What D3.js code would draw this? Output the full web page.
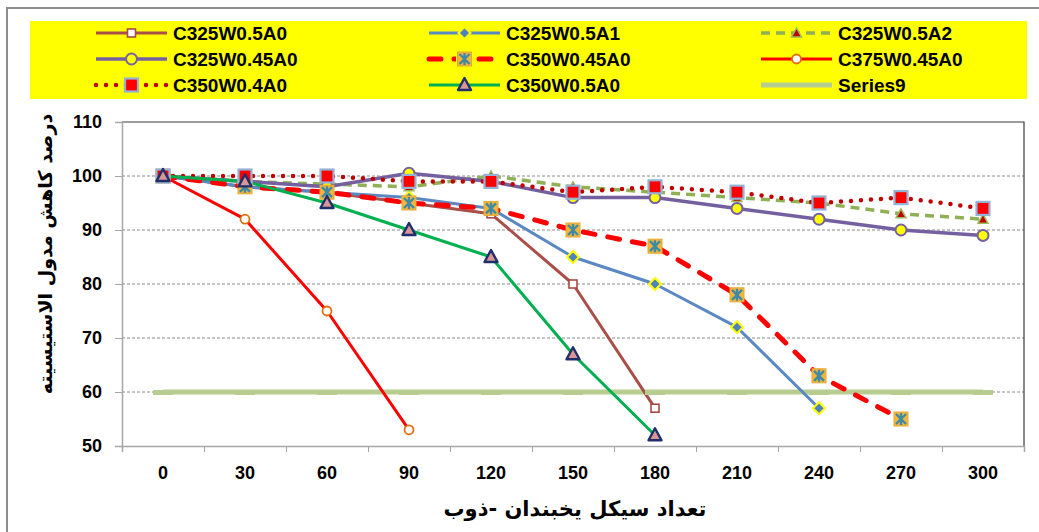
<!DOCTYPE html>
<html><head><meta charset="utf-8">
<script src="https://cdn.jsdelivr.net/npm/d3@7"></script>
<style>
html,body{margin:0;padding:0;background:#fff;}
svg{display:block;}
</style></head>
<body>
<svg id="chart" width="1039" height="532"></svg>
<script>
// ---------- DATA ----------
const categories = [0, 30, 60, 90, 120, 150, 180, 210, 240, 270, 300];
const yTicks = [50, 60, 70, 80, 90, 100, 110];
const seriesNames = ["C325W0.5A0","C325W0.5A1","C325W0.5A2","C325W0.45A0","C350W0.45A0","C375W0.45A0","C350W0.4A0","C350W0.5A0","Series9"];
const C325W05A0  = [100, 98, 97, 95, 93, 80, 57];
const C325W05A1  = [100, 98, 97, 96, 94, 85, 80, 72, 57];
const C325W05A2  = [100, 99, 98.5, 98, 100, 98, 97, 96, 95, 93, 92];
const C325W045A0 = [100, 99, 98, 100.5, 99, 96, 96, 94, 92, 90, 89];
const C350W045A0 = [100, 98, 97, 95, 94, 90, 87, 78, 63, 55];
const C375W045A0 = [100, 92, 75, 53];
const C350W04A0  = [100, 100, 100, 99, 99, 97, 98, 97, 95, 96, 94];
const C350W05A0  = [100, 99, 95, 90, 85, 67, 52];
const Series9    = [60, 60, 60, 60, 60, 60, 60, 60, 60, 60, 60];
const xTitle = "تعداد سیکل یخبندان -ذوب";
const yTitle = "درصد کاهش مدول الاستیسیته";

// ---------- LAYOUT ----------
const svg = d3.select("#chart");
const L = 122, R = 1024, T = 122, B = 446;
const x = d3.scaleBand().domain(categories).range([L, R]);
const xc = c => x(c) + x.bandwidth() / 2;
const xb = d3.scaleLinear().domain([0, categories.length]).range([L, R]);
const y = d3.scaleLinear().domain([50, 110]).range([B, T]);

// outer chart border
svg.append("rect").attr("x", 7).attr("y", 8).attr("width", 1100).attr("height", 600)
  .attr("fill", "#fff").attr("stroke", "#8e8e8e").attr("stroke-width", 2);

// legend background
svg.append("rect").attr("x", 30).attr("y", 21).attr("width", 997).attr("height", 78).attr("fill", "#ffff00");

// gridlines
svg.append("g").selectAll("line").data(yTicks.filter(v => v > 50 && v < 110)).join("line")
  .attr("x1", L).attr("x2", R).attr("y1", d => y(d)).attr("y2", d => y(d))
  .attr("stroke", "#8a8a8a").attr("stroke-width", 1).attr("stroke-dasharray", "3,2");

// plot frame top/right
svg.append("path").attr("d", `M${L},${T}H${R}V${B}`).attr("fill", "none").attr("stroke", "#3a3a3a").attr("stroke-width", 1.2);

// y axis
const yAxis = svg.append("g").attr("transform", `translate(${L},0)`)
  .call(d3.axisLeft(y).tickValues(yTicks).tickSize(7).tickPadding(13));
yAxis.select(".domain").attr("stroke", "#a6a6a6").attr("stroke-width", 1.5);
yAxis.selectAll(".tick line").attr("stroke", "#a6a6a6");
yAxis.selectAll("text").attr("font-family", "Liberation Sans, Arial, sans-serif")
  .attr("font-weight", "bold").attr("font-size", 18).attr("fill", "#000");

// x axis ticks at boundaries
const xTickAxis = svg.append("g").attr("transform", `translate(0,${B})`)
  .call(d3.axisBottom(xb).tickValues(d3.range(0, categories.length + 1)).tickSize(6).tickFormat(""));
xTickAxis.select(".domain").attr("stroke", "#a6a6a6").attr("stroke-width", 1.5);
xTickAxis.selectAll(".tick line").attr("stroke", "#a6a6a6");
const xAxis = svg.append("g").attr("transform", `translate(0,${B})`)
  .call(d3.axisBottom(x).tickSize(0).tickPadding(20));
xAxis.select(".domain").remove();
xAxis.selectAll("text").attr("font-family", "Liberation Sans, Arial, sans-serif")
  .attr("font-weight", "bold").attr("font-size", 18).attr("fill", "#000");

// axis titles
svg.append("text").attr("x", 575).attr("y", 516).attr("text-anchor", "middle")
  .attr("font-family", "DejaVu Sans, sans-serif").attr("font-weight", "bold").attr("font-size", 21)
  .attr("direction", "rtl").text(xTitle);
svg.append("text").attr("transform", "translate(52,254) rotate(-90)").attr("text-anchor", "middle")
  .attr("font-family", "DejaVu Sans, sans-serif").attr("font-weight", "bold").attr("font-size", 19)
  .attr("direction", "rtl").text(yTitle);

// ---------- MARKERS ----------
function mSquareWhite(g){ g.append("rect").attr("x",-4).attr("y",-4).attr("width",8).attr("height",8).attr("fill","#fff").attr("stroke","#a94a46").attr("stroke-width",1.6); }
function mDiamond(g){ g.append("path").attr("d","M0,-6L6,0L0,6L-6,0Z").attr("fill","#4f81bd").attr("stroke","#ffff00").attr("stroke-width",2); }
function mTriRed(g){ g.append("path").attr("d","M0,-5L5,4L-5,4Z").attr("fill","#c00000").attr("stroke","#9bbb59").attr("stroke-width",1.5); }
function mCircleYellow(g){ g.append("circle").attr("r",5.5).attr("fill","#ffff00").attr("stroke","#7560a0").attr("stroke-width",2); }
function mStar(g){
  g.append("rect").attr("x",-7).attr("y",-7).attr("width",14).attr("height",14).attr("fill","#f2b63c").attr("stroke","#e8a830").attr("stroke-width",1);
  g.append("path").attr("d","M-5,-5L5,5M5,-5L-5,5M0,-6V6").attr("stroke","#3f8aa5").attr("stroke-width",2.4);
}
function mCircleWhite(g){ g.append("circle").attr("r",4.5).attr("fill","#fff").attr("stroke","#e46c0a").attr("stroke-width",1.8); }
function mSquareRed(g){ g.append("rect").attr("x",-6.5).attr("y",-6.5).attr("width",13).attr("height",13).attr("fill","#ff0000").attr("stroke","#95b3d7").attr("stroke-width",2.2); }
function mTriNavy(g){ g.append("path").attr("d","M0,-7L6.5,5L-6.5,5Z").attr("fill","#d99694").attr("stroke","#1f2f6b").attr("stroke-width",2.4).attr("stroke-linejoin","round"); }
function mDash(g){ g.append("rect").attr("x",-10).attr("y",-2).attr("width",20).attr("height",5).attr("fill","#b7cd90"); }

const series = [
  {name: seriesNames[8], data: Series9,    color: "#b7cd90", width: 5,   dash: null,     cap: "butt",  marker: mDash},
  {name: seriesNames[0], data: C325W05A0,  color: "#aa4e49", width: 3,   dash: null,     cap: "butt",  marker: mSquareWhite},
  {name: seriesNames[1], data: C325W05A1,  color: "#5a88c3", width: 3,   dash: null,     cap: "butt",  marker: mDiamond},
  {name: seriesNames[2], data: C325W05A2,  color: "#8fb054", width: 3.5, dash: "9,6",    cap: "butt",  marker: mTriRed},
  {name: seriesNames[3], data: C325W045A0, color: "#7460a0", width: 3.5, dash: null,     cap: "butt",  marker: mCircleYellow},
  {name: seriesNames[4], data: C350W045A0, color: "#ff0000", width: 5,   dash: "12,13",  cap: "round", marker: mStar},
  {name: seriesNames[5], data: C375W045A0, color: "#ff0000", width: 3,   dash: null,     cap: "butt",  marker: mCircleWhite},
  {name: seriesNames[6], data: C350W04A0,  color: "#c00000", width: 4.5, dash: "0,10",   cap: "round", marker: mSquareRed},
  {name: seriesNames[7], data: C350W05A0,  color: "#00b050", width: 3,   dash: null,     cap: "butt",  marker: mTriNavy}
];

const line = d3.line().x((d, i) => xc(categories[i])).y(d => y(d));
const plot = svg.append("g");
series.forEach(s => {
  plot.append("path").attr("d", line(s.data)).attr("fill", "none")
    .attr("stroke", s.color).attr("stroke-width", s.width)
    .attr("stroke-dasharray", s.dash).attr("stroke-linecap", s.cap).attr("stroke-linejoin", "round");
});
series.forEach(s => {
  s.data.forEach((v, i) => {
    const g = plot.append("g").attr("transform", `translate(${xc(categories[i])},${y(v)})`);
    s.marker(g);
  });
});

// ---------- LEGEND ----------
const legendOrder = [
  [0, 1, 2],
  [3, 4, 5],
  [6, 7, 8]
];
const colX = [96, 429, 761];
const rowY = [33, 59, 85];
const byName = Object.fromEntries(series.map(s => [s.name, s]));
legendOrder.forEach((row, r) => {
  row.forEach((idx, c) => {
    const s = byName[seriesNames[idx]];
    const x0 = colX[c], yy = rowY[r];
    const g = svg.append("g");
    g.append("line").attr("x1", x0).attr("x2", x0 + 71).attr("y1", yy).attr("y2", yy)
      .attr("stroke", s.color).attr("stroke-width", s.width)
      .attr("stroke-dasharray", s.dash).attr("stroke-linecap", s.cap);
    if (s.marker !== mDash) {
      const mg = g.append("g").attr("transform", `translate(${x0 + 35.5},${yy})`);
      g.insert("rect", "g").attr("x", x0 + 27).attr("y", yy - 9).attr("width", 17).attr("height", 18).attr("fill", s.dash && s.name === "C350W0.45A0" ? "#ffff00" : "none");
      s.marker(mg);
    }
    g.append("text").attr("x", x0 + 77).attr("y", yy).attr("dy", "0.36em")
      .attr("font-family", "Liberation Sans, Arial, sans-serif").attr("font-weight", "bold")
      .attr("font-size", 19).attr("fill", "#000").text(s.name);
  });
});
</script>
</body></html>
